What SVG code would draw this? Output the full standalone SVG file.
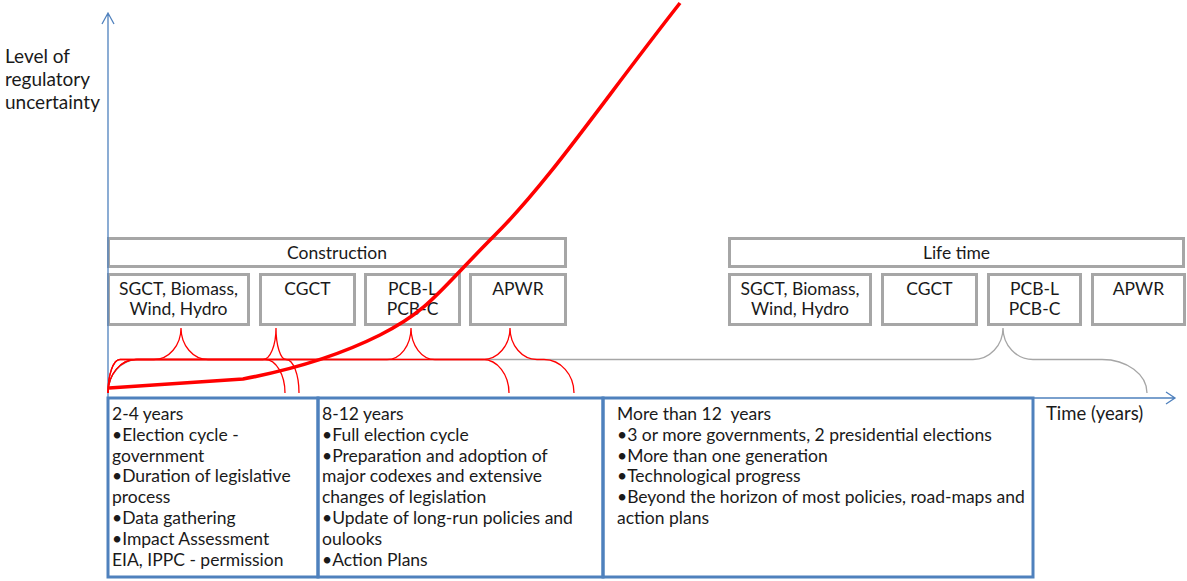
<svg xmlns="http://www.w3.org/2000/svg" width="1187" height="581" viewBox="0 0 1187 581">
<style>
  text { font-family: Lato, "Liberation Sans", sans-serif; fill: #1a1a1a; }
  .lbl { font-size: 17.5px; }
  .big { font-size: 19px; }
  .ctr { text-anchor: middle; }
  .gbox { fill: #ffffff; stroke: #a6a6a6; stroke-width: 3; }
  .pbox { fill: none; stroke: #4f81bd; stroke-width: 3; }
  .axis { fill: none; stroke: #4f81bd; stroke-width: 1.3; }
  .rb { fill: none; stroke: #ff0000; stroke-width: 1.3; }
  .gb { fill: none; stroke: #a6a6a6; stroke-width: 1.3; }
  .curve { fill: none; stroke: #ff0000; stroke-width: 3.6; stroke-linejoin: round; }
</style>

<g id="axis-label">
  <text class="big" x="5" y="63">Level of</text>
  <text class="big" x="5" y="86">regulatory</text>
  <text class="big" x="5" y="109">uncertainty</text>
</g>
<g id="time-label">
  <text class="lbl" x="1046" y="420" style="font-size:18.5px">Time (years)</text>
</g>

<g id="construction">
  <rect class="gbox" x="108.5" y="238.5" width="457" height="28"/>
  <text class="lbl ctr" x="337" y="259">Construction</text>
</g>
<g id="c-sgct">
  <rect class="gbox" x="108.5" y="274.5" width="140" height="50"/>
  <text class="lbl ctr" x="178.5" y="295">SGCT, Biomass,</text>
  <text class="lbl ctr" x="178.5" y="315">Wind, Hydro</text>
</g>
<g id="c-cgct">
  <rect class="gbox" x="260.5" y="274.5" width="94" height="50"/>
  <text class="lbl ctr" x="307.5" y="295">CGCT</text>
</g>
<g id="c-pcb">
  <rect class="gbox" x="365.5" y="274.5" width="94" height="50"/>
  <text class="lbl ctr" x="412.5" y="295">PCB-L</text>
  <text class="lbl ctr" x="412.5" y="315">PCB-C</text>
</g>
<g id="c-apwr">
  <rect class="gbox" x="470.5" y="274.5" width="95" height="50"/>
  <text class="lbl ctr" x="518" y="295">APWR</text>
</g>

<g id="lifetime">
  <rect class="gbox" x="729.5" y="238.5" width="454" height="28"/>
  <text class="lbl ctr" x="956.5" y="259">Life time</text>
</g>
<g id="l-sgct">
  <rect class="gbox" x="729.5" y="274.5" width="141" height="50"/>
  <text class="lbl ctr" x="800" y="295">SGCT, Biomass,</text>
  <text class="lbl ctr" x="800" y="315">Wind, Hydro</text>
</g>
<g id="l-cgct">
  <rect class="gbox" x="882.5" y="274.5" width="94" height="50"/>
  <text class="lbl ctr" x="929.5" y="295">CGCT</text>
</g>
<g id="l-pcb">
  <rect class="gbox" x="988.5" y="274.5" width="92" height="50"/>
  <text class="lbl ctr" x="1034.5" y="295">PCB-L</text>
  <text class="lbl ctr" x="1034.5" y="315">PCB-C</text>
</g>
<g id="l-apwr">
  <rect class="gbox" x="1092.5" y="274.5" width="92" height="50"/>
  <text class="lbl ctr" x="1138.5" y="295">APWR</text>
</g>

<g id="connectors">
  <path class="axis" d="M108,398 L108,13 M102,24 L108,13 L114,24"/>
  <path class="axis" d="M108,398 L1175,398 M1166,392 L1175,398 L1166,404"/>
  <path class="gb" d="M108,393 A30 33.5 0 0 1 138,359.5 L973,359.5 A30 31.5 0 0 0 1003,328 A30 31.5 0 0 0 1033,359.5 L1102,359.5 A45 33.5 0 0 1 1147,393"/>
  <path class="rb" d="M108,393 A12 33.5 0 0 1 120,359.5 L154,359.5 A27 31.5 0 0 0 181,328 A27 31.5 0 0 0 208,359.5 L265,359.5 A20 33.5 0 0 1 285,393"/>
  <path class="rb" d="M108,393 A12 33.5 0 0 1 120,359.5 L263,359.5 A13 31.5 0 0 0 276,328 A10 31.5 0 0 0 286,359.5 A13 33.5 0 0 1 299,393"/>
  <path class="rb" d="M108,393 A28 33.5 0 0 1 136,359.5 L387,359.5 A24 31.5 0 0 0 411,328 A24 31.5 0 0 0 435,359.5 L483,359.5 A26 33.5 0 0 1 509,393"/>
  <path class="rb" d="M108,393 A28 33.5 0 0 1 136,359.5 L483,359.5 A27 31.5 0 0 0 510,328 A27 31.5 0 0 0 537,359.5 L544,359.5 A30 33.5 0 0 1 574,393"/>
</g>

<g id="period-1">
  <rect class="pbox" x="108" y="398" width="210" height="179"/>
  <text class="lbl" x="112" y="420">2-4 years</text>
  <text class="lbl" x="112" y="440.8">•Election cycle -</text>
  <text class="lbl" x="112" y="461.6">government</text>
  <text class="lbl" x="112" y="482.4">•Duration of legislative</text>
  <text class="lbl" x="112" y="503.2">process</text>
  <text class="lbl" x="112" y="524">•Data gathering</text>
  <text class="lbl" x="112" y="544.8">•Impact Assessment</text>
  <text class="lbl" x="112" y="565.6">EIA, IPPC - permission</text>
</g>
<g id="period-2">
  <rect class="pbox" x="318" y="398" width="285" height="179"/>
  <text class="lbl" x="322" y="420">8-12 years</text>
  <text class="lbl" x="322" y="440.8">•Full election cycle</text>
  <text class="lbl" x="322" y="461.6">•Preparation and adoption of</text>
  <text class="lbl" x="322" y="482.4">major codexes and extensive</text>
  <text class="lbl" x="322" y="503.2">changes of legislation</text>
  <text class="lbl" x="322" y="524">•Update of long-run policies and</text>
  <text class="lbl" x="322" y="544.8">oulooks</text>
  <text class="lbl" x="322" y="565.6">•Action Plans</text>
</g>
<g id="period-3">
  <rect class="pbox" x="603" y="398" width="430" height="179"/>
  <text class="lbl" x="617" y="420" xml:space="preserve">More than 12  years</text>
  <text class="lbl" x="617" y="440.8">•3 or more governments, 2 presidential elections</text>
  <text class="lbl" x="617" y="461.6">•More than one generation</text>
  <text class="lbl" x="617" y="482.4">•Technological progress</text>
  <text class="lbl" x="617" y="503.2">•Beyond the horizon of most policies, road-maps and</text>
  <text class="lbl" x="617" y="524">action plans</text>
</g>

<g id="uncertainty-curve">
  <path class="curve" d="M109,388 L243,379 C280,372 330,360 380,335 S440,290 495,235 S600,105 680,3"/>
</g>
</svg>
